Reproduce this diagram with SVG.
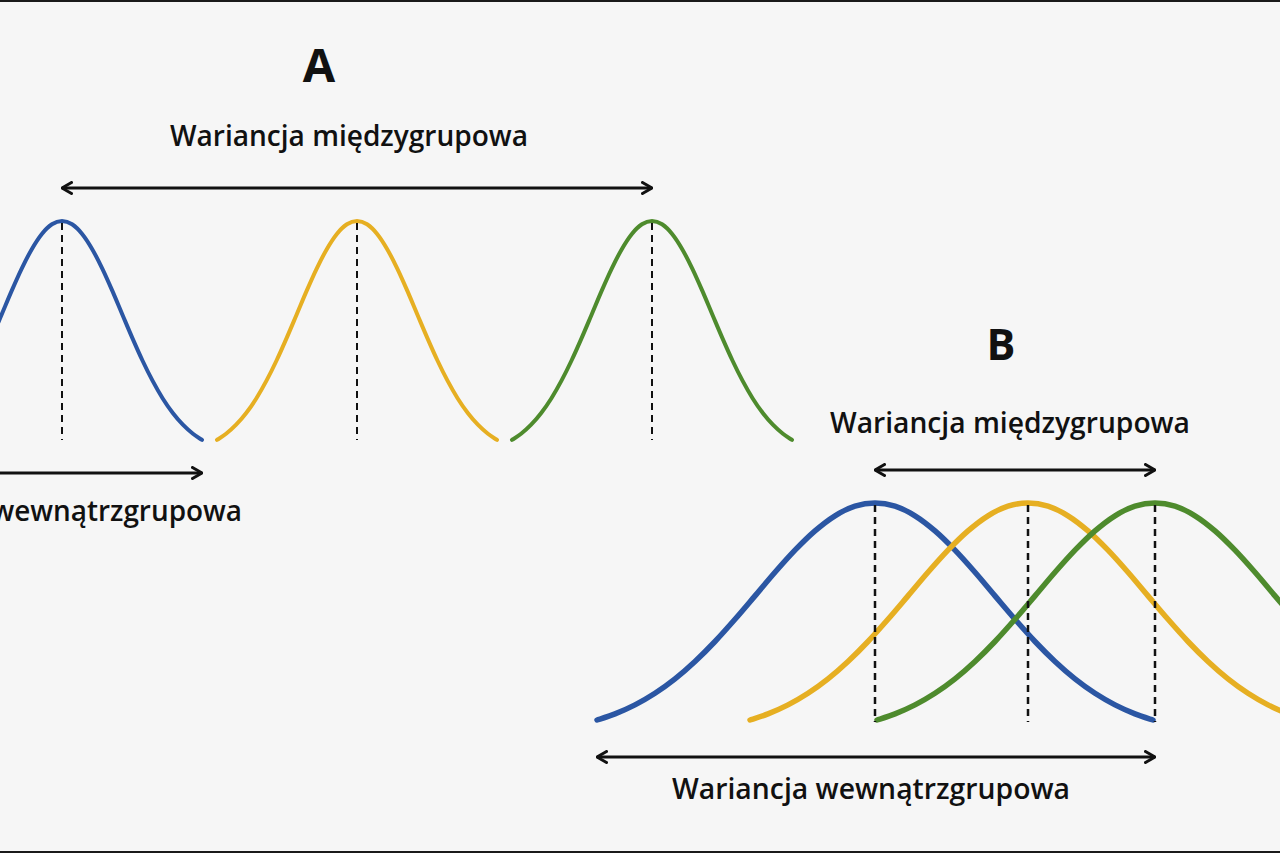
<svg xmlns="http://www.w3.org/2000/svg" xmlns:xlink="http://www.w3.org/1999/xlink" width="1280" height="853" viewBox="0 0 1280 853">
  <style>
    .lbl { font-family: "Open Sans", "Liberation Sans", sans-serif; font-weight: 600; font-size: 28px; fill: #111; }
    .big { font-family: "Open Sans", "Liberation Sans", sans-serif; font-weight: 700; fill: #111; }
    .curve { fill: none; stroke-linecap: round; stroke-linejoin: round; }
    .a { stroke-width: 4; }
    .b { stroke-width: 5.5; }
    .blue { stroke: #2B56A3; }
    .yellow { stroke: #E6AF22; }
    .green { stroke: #4E8B2D; }
    .mean { stroke: #111; stroke-dasharray: 7 5; fill: none; }
    .arrow { stroke: #111; stroke-width: 3; fill: none; marker-start: url(#ah); marker-end: url(#ah); }
  </style>
  <defs>
    <marker id="ah" viewBox="0 0 12 14" refX="11" refY="7" markerWidth="12" markerHeight="14" markerUnits="userSpaceOnUse" orient="auto-start-reverse">
      <path d="M1.5,1.5 L11,7 L1.5,12.5" fill="none" stroke="#111" stroke-width="3" stroke-linecap="round" stroke-linejoin="round"/>
    </marker>
    <path id="bell" vector-effect="non-scaling-stroke" d="M-278,217 C-275,216 -266.333,213.417 -260,210.9 C-253.667,208.383 -246.667,205.333 -240,201.9 C-233.333,198.467 -226.667,194.633 -220,190.3 C-213.333,185.967 -206.667,181.2 -200,175.9 C-193.333,170.6 -186.667,164.733 -180,158.5 C-173.333,152.267 -166.667,145.533 -160,138.5 C-153.333,131.467 -146.667,123.9 -140,116.3 C-133.333,108.7 -126.667,100.733 -120,92.9 C-113.333,85.067 -106.667,76.917 -100,69.3 C-93.333,61.683 -86.667,54.1 -80,47.2 C-73.333,40.3 -66.667,33.633 -60,27.9 C-53.333,22.167 -46.667,16.917 -40,12.8 C-33.333,8.683 -26.667,5.333 -20,3.2 C-13.333,1.067 -6.667,0 0,0 C6.667,0 13.333,1.067 20,3.2 C26.667,5.333 33.333,8.683 40,12.8 C46.667,16.917 53.333,22.167 60,27.9 C66.667,33.633 73.333,40.3 80,47.2 C86.667,54.1 93.333,61.683 100,69.3 C106.667,76.917 113.333,85.067 120,92.9 C126.667,100.733 133.333,108.7 140,116.3 C146.667,123.9 153.333,131.467 160,138.5 C166.667,145.533 173.333,152.267 180,158.5 C186.667,164.733 193.333,170.6 200,175.9 C206.667,181.2 213.333,185.967 220,190.3 C226.667,194.633 233.333,198.467 240,201.9 C246.667,205.333 253.667,208.383 260,210.9 C266.333,213.417 275,216 278,217"/>
  </defs>

  <rect x="0" y="0" width="1280" height="853" fill="#f6f6f6"/>
  <rect x="0" y="0" width="1280" height="2" fill="#1a1a1a"/>
  <rect x="0" y="851" width="1280" height="2" fill="#1a1a1a"/>

  <g id="panelA">
    <text class="big" x="319" y="82" font-size="47" text-anchor="middle">A</text>
    <g id="A-blue"><use xlink:href="#bell" class="curve a blue" transform="translate(62,221) scale(0.5036,1.009)"/></g>
    <g id="A-yellow"><use xlink:href="#bell" class="curve a yellow" transform="translate(357,221) scale(0.5036,1.009)"/></g>
    <g id="A-green"><use xlink:href="#bell" class="curve a green" transform="translate(652,221) scale(0.5036,1.009)"/></g>
    <g id="A-means">
      <line class="mean" x1="62" y1="223" x2="62" y2="440" stroke-width="2"/>
      <line class="mean" x1="357" y1="223" x2="357" y2="440" stroke-width="2"/>
      <line class="mean" x1="652" y1="223" x2="652" y2="440" stroke-width="2"/>
    </g>
    <text id="A-between-label" class="lbl" x="349" y="146" text-anchor="middle" textLength="358" lengthAdjust="spacingAndGlyphs">Wariancja międzygrupowa</text>
    <text id="A-within-label" class="lbl" x="242" y="521" text-anchor="end" textLength="392" lengthAdjust="spacingAndGlyphs">Wariancja wewnątrzgrupowa</text>
  </g>

  <g id="panelB">
    <text class="big" x="1001" y="360" font-size="43" text-anchor="middle">B</text>
    <g id="B-blue"><use xlink:href="#bell" class="curve b blue" transform="translate(875,503)"/></g>
    <g id="B-yellow"><use xlink:href="#bell" class="curve b yellow" transform="translate(1028,503)"/></g>
    <g id="B-green"><use xlink:href="#bell" class="curve b green" transform="translate(1155,503)"/></g>
    <g id="B-means">
      <line class="mean" x1="875" y1="505" x2="875" y2="722" stroke-width="2.5"/>
      <line class="mean" x1="1028" y1="505" x2="1028" y2="722" stroke-width="2.5"/>
      <line class="mean" x1="1155" y1="505" x2="1155" y2="722" stroke-width="2.5"/>
    </g>
    <text id="B-between-label" class="lbl" x="1010" y="433" text-anchor="middle" textLength="360" lengthAdjust="spacingAndGlyphs">Wariancja międzygrupowa</text>
    <text id="B-within-label" class="lbl" x="871" y="799" text-anchor="middle" textLength="398" lengthAdjust="spacingAndGlyphs">Wariancja wewnątrzgrupowa</text>
  </g>

  <g id="connectors">
    <line class="arrow" x1="62" y1="188" x2="652" y2="188"/>
    <line class="arrow" x1="-80" y1="473" x2="202" y2="473"/>
    <line class="arrow" x1="875" y1="470" x2="1155" y2="470"/>
    <line class="arrow" x1="597" y1="757" x2="1155" y2="757"/>
  </g>
</svg>
